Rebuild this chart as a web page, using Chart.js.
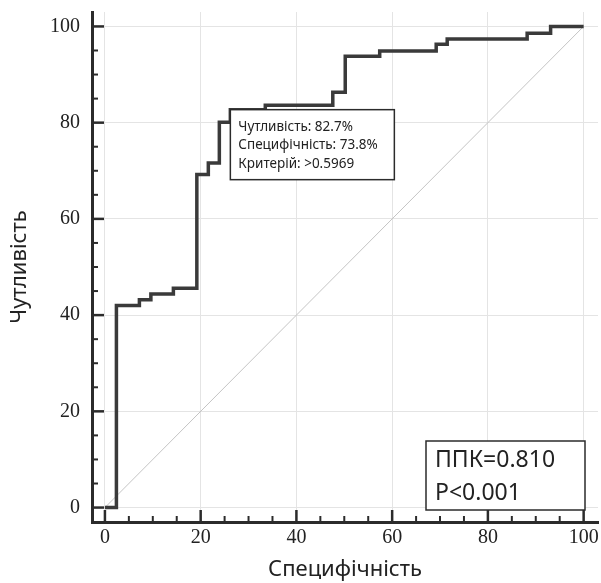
<!DOCTYPE html>
<html>
<head>
<meta charset="utf-8">
<script src="https://cdn.jsdelivr.net/npm/chart.js@4.4.1/dist/chart.umd.min.js"></script>
<style>
html, body { margin: 0; padding: 0; background: #fff; }
#wrap { width: 601px; height: 583px; }
</style>
</head>
<body>
<div id="wrap"><canvas id="rocChart"></canvas></div>
<script>
// ROC curve corners (100 - specificity, sensitivity)
const fpr = [0, 2.4, 7.2, 9.6, 14.3, 19.2, 21.6, 23.9, 26.2, 33.5, 47.6, 50.2, 57.4, 69.2, 71.5, 88.2, 93.1, 100];
const tpr = [0, 42.0, 43.2, 44.4, 45.6, 69.2, 71.6, 80.1, 82.7, 83.6, 86.3, 93.8, 94.9, 96.3, 97.4, 98.6, 100, 100];
const diagX = [0, 100];
const diagY = [0, 100];
const tickVals = [0, 5, 10, 15, 20, 25, 30, 35, 40, 45, 50, 55, 60, 65, 70, 75, 80, 85, 90, 95, 100];
const majorStep = 20;
const cutoffIndex = 8;
const cutoffLines = ["Чутливість: 82.7%", "Специфічність: 73.8%", "Критерій: >0.5969"];
const aucLines = ["ППК=0.810", "P<0.001"];

const axisColor = '#2b2b2b';
const sansFont = '"Noto Sans", "Open Sans", sans-serif';
const serifFont = '"Liberation Serif", "DejaVu Serif", serif';

const rocPoints = fpr.map((v, i) => ({ x: v, y: tpr[i] }));
const diagPoints = diagX.map((v, i) => ({ x: v, y: diagY[i] }));

// ticks inside the axes + the two text boxes
const extras = {
    id: 'extras',
    afterDraw(chart) {
        const { ctx, chartArea: a, scales: { x, y } } = chart;
        ctx.save();
        ctx.strokeStyle = axisColor;
        tickVals.forEach(v => {
            const major = v % majorStep === 0;
            const len = major ? 12 : 6;
            ctx.lineWidth = major ? 2.5 : 2;
            const py = y.getPixelForValue(v);
            ctx.beginPath();
            ctx.moveTo(a.left, py);
            ctx.lineTo(a.left + len, py);
            ctx.stroke();
            const px = x.getPixelForValue(v);
            ctx.beginPath();
            ctx.moveTo(px, a.bottom);
            ctx.lineTo(px, a.bottom - len);
            ctx.stroke();
        });

        // cut-off box, top-left corner on the cut-off point
        let bx = x.getPixelForValue(fpr[cutoffIndex]);
        let by = y.getPixelForValue(tpr[cutoffIndex]);
        ctx.fillStyle = '#fff';
        ctx.lineWidth = 1.5;
        ctx.fillRect(bx, by, 164, 70);
        ctx.strokeRect(bx, by, 164, 70);
        ctx.fillStyle = '#222';
        ctx.font = '13.5px ' + sansFont;
        ctx.textBaseline = 'middle';
        cutoffLines.forEach((t, i) => ctx.fillText(t, bx + 8, by + 17 + i * 18.5));

        // AUC box, bottom right
        bx = a.right - 172;
        by = a.bottom - 81;
        ctx.fillStyle = '#fff';
        ctx.fillRect(bx, by, 159, 69);
        ctx.strokeRect(bx, by, 159, 69);
        ctx.fillStyle = '#222';
        ctx.font = '23px ' + sansFont;
        aucLines.forEach((t, i) => ctx.fillText(t, bx + 9, by + 19 + i * 33));
        ctx.restore();
    }
};

const gridColor = (c) => (c.tick && c.tick.value % majorStep === 0) ? '#e4e4e4' : 'rgba(0,0,0,0)';

const config = {
    type: 'line',
    data: {
        datasets: [{
            data: rocPoints,
            borderColor: '#3a3a3a',
            borderWidth: 3.5,
            stepped: true,
            pointRadius: 0,
            fill: false,
        }, {
            data: diagPoints,
            borderColor: '#c4c4c4',
            borderWidth: 1,
            pointRadius: 0,
            fill: false,
        }],
    },
    options: {
        responsive: true,
        maintainAspectRatio: false,
        animation: false,
        layout: {
            padding: { top: 12, right: 3, left: 5, bottom: 0 },
        },
        scales: {
            x: {
                type: 'linear',
                min: -2.7,
                max: 103,
                afterBuildTicks: (axis) => { axis.ticks = tickVals.map(v => ({ value: v })); },
                afterFit: (s) => { s.height = 61; s.paddingLeft = 0; s.paddingRight = 0; },
                grid: { color: gridColor, drawTicks: false },
                border: { display: true, color: axisColor, width: 3 },
                ticks: {
                    autoSkip: false,
                    maxRotation: 0,
                    padding: 4,
                    color: '#222',
                    font: { family: serifFont, size: 20 },
                    callback: (v) => v % majorStep === 0 ? v : '',
                },
                title: {
                    display: true,
                    text: 'Специфічність',
                    color: '#222',
                    padding: { top: 0, bottom: 0 },
                    font: { family: sansFont, size: 22 },
                },
            },
            y: {
                min: -3,
                max: 103,
                afterBuildTicks: (axis) => { axis.ticks = tickVals.map(v => ({ value: v })); },
                afterFit: (s) => { s.width = 87; s.paddingTop = 0; s.paddingBottom = 0; },
                grid: { color: gridColor, drawTicks: false },
                border: { display: true, color: axisColor, width: 3 },
                ticks: {
                    autoSkip: false,
                    padding: 12,
                    color: '#222',
                    font: { family: serifFont, size: 20 },
                    callback: (v) => v % majorStep === 0 ? v : '',
                },
                title: {
                    display: true,
                    text: 'Чутливість',
                    color: '#222',
                    padding: { top: 2, bottom: 0 },
                    font: { family: sansFont, size: 22 },
                },
            },
        },
        plugins: {
            legend: { display: false },
            tooltip: { enabled: false },
        },
    },
    plugins: [extras],
};

const rocChart = new Chart(document.getElementById('rocChart').getContext('2d'), config);
</script>
</body>
</html>
